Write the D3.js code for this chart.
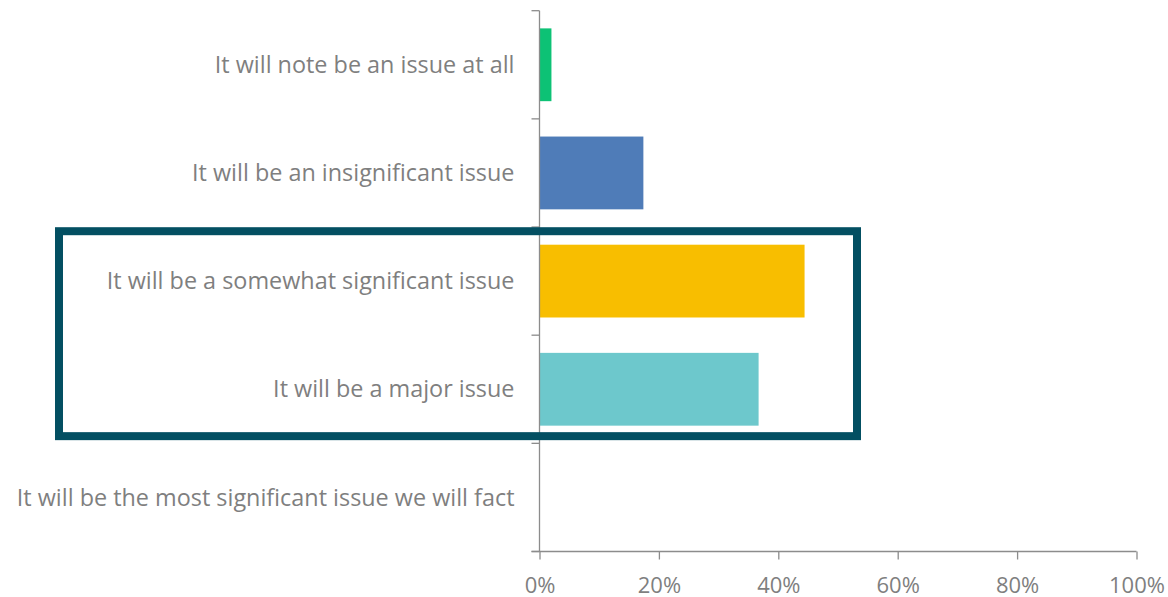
<!DOCTYPE html>
<html>
<head>
<meta charset="utf-8">
<script src="https://cdn.jsdelivr.net/npm/d3@7"></script>
<style>
  html, body { margin: 0; padding: 0; background: #fff; }
  svg text { font-family: "Open Sans", "Noto Sans", sans-serif; fill: #7f7f7f; }
</style>
</head>
<body>
<svg id="chart" width="1168" height="597"></svg>
<script>
// Survey answers, top to bottom
const categories = [
  "It will note be an issue at all",
  "It will be an insignificant issue",
  "It will be a somewhat significant issue",
  "It will be a major issue",
  "It will be the most significant issue we will fact"
];
// Share of respondents (%)
const values = [2, 17.4, 44.4, 36.7, 0];
const barColors = ["#0dc275", "#4f7cb8", "#f8be00", "#6dc8cc", "#999999"];
const tickValues = [0, 20, 40, 60, 80, 100];
// Answers grouped by the callout frame
const highlighted = ["It will be a somewhat significant issue", "It will be a major issue"];

const svg = d3.select("#chart");
const margin = { left: 539.5, right: 31.5, top: 10.7, bottom: 45.5 };
const W = 1168, H = 597;

const x = d3.scaleLinear().domain([0, 100]).range([margin.left, W - margin.right]);
const y = d3.scaleBand().domain(categories).range([margin.top, H - margin.bottom]).paddingInner(0.327).paddingOuter(0.1635);

// bars
svg.append("g").selectAll("rect")
  .data(categories)
  .join("rect")
  .attr("x", x(0))
  .attr("y", d => y(d))
  .attr("width", (d, i) => x(values[i]) - x(0))
  .attr("height", y.bandwidth())
  .attr("fill", (d, i) => barColors[i]);

const axisColor = "#8c8c8c";

// x axis
const xAxis = svg.append("g")
  .attr("transform", `translate(0,${H - margin.bottom})`)
  .call(d3.axisBottom(x).tickValues(tickValues).tickFormat(d => d + "%").tickSize(8).tickSizeOuter(0));
xAxis.select(".domain").remove();
xAxis.append("line")
  .attr("x1", margin.left - 8).attr("x2", x(100))
  .attr("stroke", axisColor).attr("stroke-width", 1.3);
xAxis.selectAll(".tick line").attr("stroke", axisColor).attr("stroke-width", 1.3);
xAxis.selectAll(".tick text").attr("font-size", 22).attr("dy", "30px").style("fill", "#7f7f7f");

// y axis: ticks sit on band boundaries
const bandEdges = categories.map(c => y(c) - y.step() * y.paddingInner() / 2);
bandEdges.push(H - margin.bottom);
const yAxisG = svg.append("g");
yAxisG.append("line")
  .attr("x1", margin.left).attr("x2", margin.left)
  .attr("y1", margin.top).attr("y2", H - margin.bottom)
  .attr("stroke", axisColor).attr("stroke-width", 1.3);
yAxisG.selectAll("line.tk")
  .data(bandEdges)
  .join("line")
  .attr("class", "tk")
  .attr("x1", margin.left - 8).attr("x2", margin.left)
  .attr("y1", d => d).attr("y2", d => d)
  .attr("stroke", axisColor).attr("stroke-width", 1.3);

// category labels
svg.append("g").selectAll("text")
  .data(categories)
  .join("text")
  .attr("x", margin.left - 25)
  .attr("y", d => y(d) + y.bandwidth() / 2)
  .attr("dy", "0.35em")
  .attr("text-anchor", "end")
  .attr("font-size", 23.4)
  .text(d => d);

// callout frame around the grouped answers
const hFirst = highlighted[0], hLast = highlighted[highlighted.length - 1];
const frameTop = y(hFirst) - 13.5;
const frameBottom = y(hLast) + y.bandwidth() + 10.5;
svg.append("rect")
  .attr("x", 59)
  .attr("y", frameTop)
  .attr("width", 798)
  .attr("height", frameBottom - frameTop)
  .attr("fill", "none")
  .attr("stroke", "#034f62")
  .attr("stroke-width", 8);
</script>
</body>
</html>
